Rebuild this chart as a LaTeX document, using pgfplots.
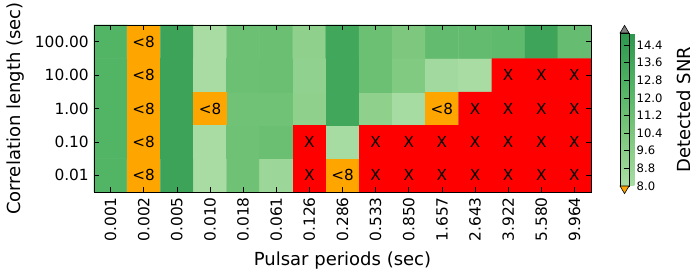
\documentclass[border=0pt]{standalone}
\usepackage{pgfplots}
\pgfplotsset{compat=1.18}
\usepackage{fontspec}
\setmainfont{DejaVu Sans}
\definecolor{cbover}{RGB}{128,128,128}
\definecolor{mplorange}{RGB}{255,165,0}
\definecolor{mplred}{RGB}{255,0,0}
\begin{document}
\fontsize{15}{18}\selectfont
\begin{tikzpicture}
\begin{axis}[
  name=main,
  scale only axis, width=497pt, height=167pt,
  xmin=-0.5, xmax=14.5, ymin=-0.5, ymax=4.5,
  axis on top,
  axis line style={line width=0.8pt},
  xtick={0,...,14},
  xticklabels={0.001,0.002,0.005,0.010,0.018,0.061,0.126,0.286,0.533,0.850,1.657,2.643,3.922,5.580,9.964},
  ytick={0,...,4},
  yticklabels={0.01,0.10,1.00,10.00,100.00},
  tick align=inside, major tick length=5pt,
  tick style={black, line width=0.6pt},
  tick label style={font=\fontsize{15.4}{18}\selectfont},
  label style={font=\fontsize{18}{21}\selectfont},
  xticklabel style={rotate=90, anchor=east},
  xlabel={Pulsar periods (sec)}, ylabel={Correlation length (sec)},
  colormap={snr}{rgb255=(170,221,165) rgb255=(125,200,126) rgb255=(80,179,100) rgb255=(45,150,78)},
  point meta min=8, point meta max=14.95,
  colorbar,
  colorbar style={
    at={(parent axis.east)}, anchor=west, xshift=20.5pt, yshift=-1pt,
    width=9pt, height=153pt,
    ytick={8.0,8.8,9.6,10.4,11.2,12.0,12.8,13.6,14.4},
    ytick pos=right,
    tick align=inside, major tick length=5pt,
    tick style={black, line width=0.6pt},
    yticklabel style={font=\fontsize{11.6}{13}\selectfont, xshift=2.5pt, /pgf/number format/.cd, fixed, fixed zerofill, precision=1, assume math mode=true},
    clip=false,
    after end axis/.code={
      \fill[mplorange, draw=black, line width=0.6pt] (rel axis cs:0,0) -- (rel axis cs:1,0) -- (rel axis cs:0.5,-0.05) -- cycle;
      \fill[cbover, draw=black, line width=0.6pt] (rel axis cs:0,1) -- (rel axis cs:1,1) -- (rel axis cs:0.5,1.05) -- cycle;
      \node[rotate=90, anchor=north, inner sep=0pt, font=\fontsize{18}{21}\selectfont] at ([xshift=48pt]rel axis cs:1,0.5) {Detected SNR};
    },
  },
]
\addplot[matrix plot*, mesh/cols=15, point meta=explicit] table[meta=z] {
x y z
0 0 12.5
1 0 8
2 0 13.9
3 0 8.1
4 0 11.1
5 0 8.7
6 0 8
7 0 8
8 0 8
9 0 8
10 0 8
11 0 8
12 0 8
13 0 8
14 0 8
0 1 12.5
1 1 8
2 1 13.9
3 1 8.1
4 1 11.1
5 1 11.3
6 1 8
7 1 8.2
8 1 8
9 1 8
10 1 8
11 1 8
12 1 8
13 1 8
14 1 8
0 2 12.5
1 2 8
2 2 13.9
3 2 8
4 2 11.0
5 2 11.0
6 2 9.4
7 2 13.6
8 2 9.4
9 2 8.2
10 2 8
11 2 8
12 2 8
13 2 8
14 2 8
0 3 12.5
1 3 8
2 3 13.9
3 3 8.1
4 3 11.2
5 3 11.3
6 3 9.3
7 3 13.6
8 3 11.2
9 3 10.1
10 3 8.4
11 3 8.1
12 3 8
13 3 8
14 3 8
0 4 12.5
1 4 8
2 4 13.9
3 4 8.1
4 4 11.2
5 4 11.3
6 4 9.4
7 4 13.6
8 4 11.2
9 4 10.3
10 4 11.7
11 4 11.7
12 4 11.8
13 4 13.8
14 4 11.5
};
% orange cells (<8)
\addplot[fill=mplorange, draw=none, mark=none] coordinates {(0.5,-0.5) (1.5,-0.5) (1.5,4.5) (0.5,4.5)};
\addplot[fill=mplorange, draw=none, mark=none] coordinates {(2.5,1.5) (3.5,1.5) (3.5,2.5) (2.5,2.5)};
\addplot[fill=mplorange, draw=none, mark=none] coordinates {(9.5,1.5) (10.5,1.5) (10.5,2.5) (9.5,2.5)};
\addplot[fill=mplorange, draw=none, mark=none] coordinates {(6.5,-0.5) (7.5,-0.5) (7.5,0.5) (6.5,0.5)};
% red cells (X)
\addplot[fill=mplred, draw=none, mark=none] coordinates {(5.5,-0.5) (6.5,-0.5) (6.5,1.5) (5.5,1.5)};
\addplot[fill=mplred, draw=none, mark=none] coordinates {(7.5,-0.5) (14.5,-0.5) (14.5,3.5) (11.5,3.5) (11.5,2.5) (10.5,2.5) (10.5,1.5) (7.5,1.5)};
% cell labels
\addplot[only marks, mark=none, nodes near coords, point meta=explicit symbolic,
  nodes near coords align={center},
  every node near coord/.append style={anchor=center, inner sep=0pt, text=black, font=\fontsize{15.2}{18}\selectfont}]
  table[meta=t] {
x y t
1 0 <8
1 1 <8
1 2 <8
1 3 <8
1 4 <8
3 2 <8
10 2 <8
7 0 <8
6 0 X
8 0 X
9 0 X
10 0 X
11 0 X
12 0 X
13 0 X
14 0 X
6 1 X
8 1 X
9 1 X
10 1 X
11 1 X
12 1 X
13 1 X
14 1 X
11 2 X
12 2 X
13 2 X
14 2 X
12 3 X
13 3 X
14 3 X
};
\end{axis}
\pgfresetboundingbox
\path (main.south west) ++(-94pt,-81pt) rectangle ++(695pt,273pt);
\end{tikzpicture}
\end{document}
